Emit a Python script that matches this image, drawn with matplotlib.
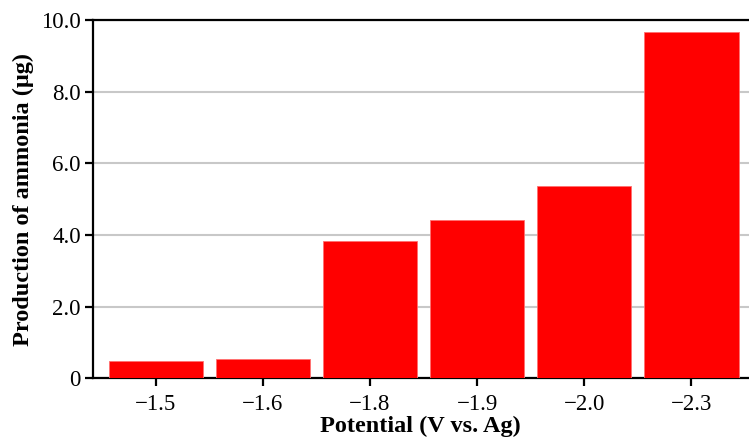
import matplotlib
matplotlib.use("Agg")
import matplotlib.pyplot as plt

potentials = ["\u22121.5", "\u22121.6", "\u22121.8", "\u22121.9", "\u22122.0", "\u22122.3"]
ammonia = [0.47, 0.55, 3.83, 4.41, 5.37, 9.66]
y_ticks = [0, 2, 4, 6, 8, 10]
y_tick_labels = ["0", "2.0", "4.0", "6.0", "8.0", "10.0"]

plt.rcParams['font.family'] = ['Liberation Serif', 'DejaVu Serif']

fig = plt.figure(figsize=(7.49, 4.40), dpi=100)
ax = fig.add_axes([0.1238, 0.1402, 0.8762, 0.8143])

x = list(range(len(potentials)))
ax.bar(x, ammonia, width=0.884, color='#ff0000', edgecolor='#ff7070', linewidth=0.6, zorder=3)

ax.set_xlim(-0.59, 5.54)
ax.set_ylim(0, 10)
ax.set_xticks(x)
ax.set_xticklabels(potentials, fontsize=16.5)
ax.set_yticks(y_ticks)
ax.set_yticklabels(y_tick_labels, fontsize=16.5)

ax.yaxis.grid(True, color='#c8c8c8', linewidth=1.5, zorder=0)
ax.set_axisbelow(True)

for side in ['left', 'top', 'bottom']:
    ax.spines[side].set_linewidth(1.6)
    ax.spines[side].set_color('black')
ax.spines['right'].set_visible(False)
ax.tick_params(axis='both', direction='out', length=5.5, width=1.6, color='black')
ax.tick_params(axis='x', pad=5.5)
ax.tick_params(axis='y', pad=3)

ax.set_xlabel("Potential (V vs. Ag)", fontsize=17.5, fontweight='bold', labelpad=1)
ax.set_ylabel("Production of ammonia (\u03bcg)", fontsize=17.5, fontweight='bold', labelpad=5)

fig.savefig("out.png", dpi=100)
